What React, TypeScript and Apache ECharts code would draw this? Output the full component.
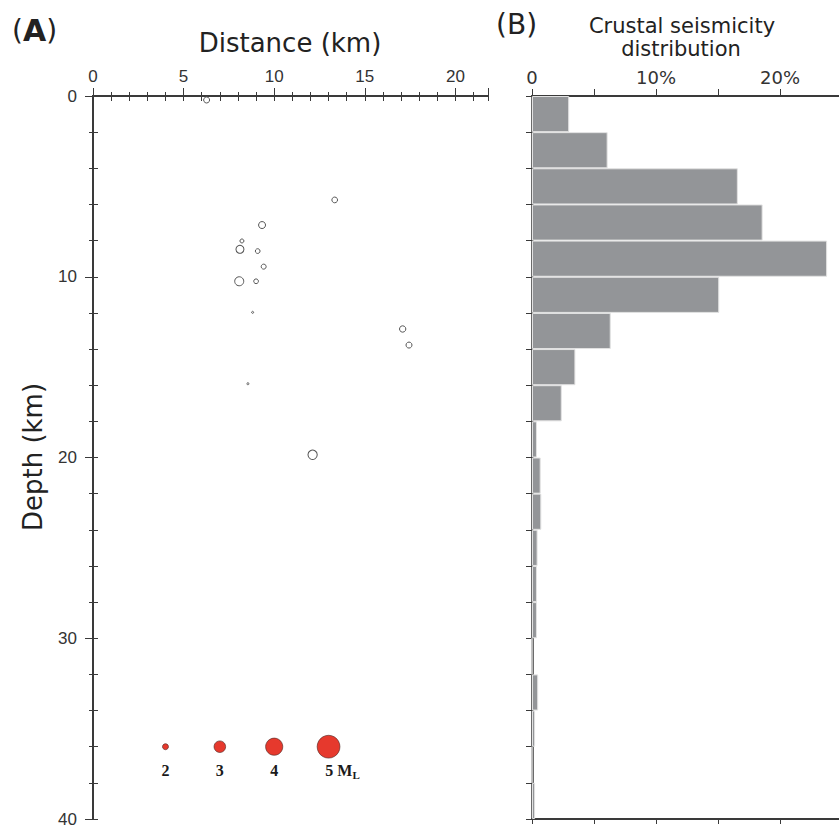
import React, { useEffect, useRef } from "react";
import * as echarts from "echarts";

// Panel A: earthquake hypocentres [distance km, depth km, magnitude ML]
const quakeDistance = [6.27, 13.34, 9.33, 8.22, 8.11, 9.09, 9.42, 8.07, 9.0, 8.81, 17.09, 17.44, 8.55, 12.12];
const quakeDepth = [0.22, 5.75, 7.14, 8.02, 8.48, 8.58, 9.44, 10.25, 10.25, 11.97, 12.89, 13.78, 15.92, 19.85];
const quakeMag = [2.0, 1.95, 2.18, 1.64, 2.36, 1.77, 1.82, 2.54, 1.77, 1.29, 2.06, 2.0, 1.29, 2.59];

// Magnitude scale legend
const legendMags = [2, 3, 4, 5];
const legendX = [4, 7, 10, 13];
const legendDepth = 36;

// Panel B: seismicity distribution per 2 km depth bin (%)
const depthBins = ["0-2", "2-4", "4-6", "6-8", "8-10", "10-12", "12-14", "14-16", "16-18", "18-20",
  "20-22", "22-24", "24-26", "26-28", "28-30", "30-32", "32-34", "34-36", "36-38", "38-40"];
const binPercent = [3.0, 6.1, 16.6, 18.6, 23.8, 15.1, 6.35, 3.5, 2.4, 0.4,
  0.7, 0.75, 0.45, 0.4, 0.4, 0, 0.5, 0.25, 0, 0.25];

const pctTickLabels: Record<number, string> = { 0: "0", 10: "10%", 20: "20%" };

const magToDiameter = (m: number) => 5.6 * (m - 0.93);

const AXIS = "#3a3a3a";

export default function App() {
  const ref = useRef<HTMLDivElement>(null);
  useEffect(() => {
    document.body.style.margin = "0";
    document.body.style.overflow = "hidden";
    if (!ref.current) return;
    const chart = echarts.init(ref.current, null, { renderer: "svg" });

    const gridTop = 96;
    const gridH = 723;
    const axisLine = { show: true, lineStyle: { color: AXIS, width: 2 } };

    const option: any = {
      animation: false,
      backgroundColor: "#ffffff",
      grid: [
        { left: 93, top: gridTop, width: 395, height: gridH, containLabel: false, outerBoundsMode: "none" },
        { left: 532, top: gridTop, width: 310, height: gridH, containLabel: false, outerBoundsMode: "none" },
      ],
      xAxis: [
        {
          gridIndex: 0, type: "value", position: "top", min: 0, max: 21.8, interval: 5,
          axisLine, splitLine: { show: false },
          axisTick: { show: true, inside: false, length: 8, lineStyle: { color: AXIS, width: 1 } },
          minorTick: { show: true, splitNumber: 5, length: 4, lineStyle: { color: AXIS, width: 1 } },
          axisLabel: {
            show: true, margin: 11, fontFamily: "Liberation Sans", fontSize: 17, color: "#333",
            showMaxLabel: false,
            formatter: (v: number) => (Math.abs(v % 5) < 1e-6 ? String(v) : ""),
          },
        },
        {
          gridIndex: 0, type: "value", position: "bottom", min: 0, max: 21.8, interval: 1,
          axisLine, splitLine: { show: false },
          axisTick: { show: true, inside: false, length: 5, lineStyle: { color: AXIS, width: 1 } },
          axisLabel: { show: false },
        },
        {
          gridIndex: 1, type: "value", position: "top", min: 0, max: 25, interval: 5,
          axisLine, splitLine: { show: false },
          axisTick: { show: true, inside: false, length: 7, lineStyle: { color: AXIS, width: 1 } },
          axisLabel: {
            show: true, margin: 10, fontFamily: "DejaVu Sans", fontSize: 18, color: "#333",
            formatter: (v: number) => pctTickLabels[v] ?? "",
          },
        },
        {
          gridIndex: 1, type: "value", position: "bottom", min: 0, max: 25, interval: 5,
          axisLine, splitLine: { show: false },
          axisTick: { show: true, inside: false, length: 5, lineStyle: { color: AXIS, width: 1 } },
          axisLabel: { show: false },
        },
      ],
      yAxis: [
        {
          gridIndex: 0, type: "value", position: "left", inverse: true, min: 0, max: 40, interval: 10,
          axisLine, splitLine: { show: false },
          axisTick: { show: true, inside: false, length: 8, lineStyle: { color: AXIS, width: 1 } },
          minorTick: { show: true, splitNumber: 5, length: 4, lineStyle: { color: AXIS, width: 1 } },
          axisLabel: { show: true, margin: 16, fontFamily: "Liberation Sans", fontSize: 17, color: "#333" },
        },
        {
          gridIndex: 0, type: "value", position: "right", inverse: true, min: 0, max: 40, interval: 2,
          axisLine, splitLine: { show: false },
          axisTick: { show: true, inside: false, length: 5, lineStyle: { color: AXIS, width: 1 } },
          axisLabel: { show: false },
        },
        {
          gridIndex: 1, type: "category", position: "left", inverse: true, data: depthBins,
          axisLine: { show: true, lineStyle: { color: AXIS, width: 2.5 } },
          splitLine: { show: false },
          axisTick: { show: true, inside: false, length: 6, lineStyle: { color: AXIS, width: 1 } },
          axisLabel: { show: false },
        },
      ],
      series: [
        {
          type: "bar",
          xAxisIndex: 2,
          yAxisIndex: 2,
          data: binPercent,
          barCategoryGap: "0%",
          itemStyle: { color: "#939598", borderColor: "#e2e2e2", borderWidth: 1, opacity: 1 },
          silent: true,
          z: 1,
        },
        {
          type: "scatter",
          xAxisIndex: 0,
          yAxisIndex: 0,
          data: quakeDistance.map((x, i) => [x, quakeDepth[i], quakeMag[i]]),
          symbol: "circle",
          symbolSize: (v: number[]) => magToDiameter(v[2]),
          itemStyle: { color: "#ffffff", borderColor: "#555555", borderWidth: 1, opacity: 1 },
          silent: true,
        },
        {
          type: "scatter",
          xAxisIndex: 0,
          yAxisIndex: 0,
          data: legendMags.map((m, i) => ({
            value: [legendX[i], legendDepth, m],
            label: i === legendMags.length - 1
              ? { offset: [14, 24], formatter: `{n|${m} M}{s|L}` }
              : { offset: [0, 24], formatter: `{n|${m}}` },
          })),
          symbol: "circle",
          symbolSize: (v: number[]) => magToDiameter(v[2]),
          itemStyle: { color: "#e6392d", borderColor: "#4a2420", borderWidth: 0.6, opacity: 1 },
          label: {
            show: true,
            position: "inside",
            rich: {
              n: { fontFamily: "Liberation Serif", fontWeight: "bold", fontSize: 16, color: "#1a1a1a" },
              s: { fontFamily: "Liberation Serif", fontWeight: "bold", fontSize: 11, color: "#1a1a1a", padding: [9, 0, 0, 0] },
            },
          },
          silent: true,
        },
      ],
      graphic: [
        {
          type: "text", left: 12, top: 15,
          style: {
            text: "{p|(}{b|A}{p|)}",
            rich: {
              p: { fontFamily: "DejaVu Sans", fontSize: 28, fontWeight: "normal", fill: "#222" },
              b: { fontFamily: "DejaVu Sans", fontSize: 30, fontWeight: "bold", fill: "#222" },
            },
          },
        },
        {
          type: "text", x: 290, y: 43,
          style: {
            text: "Distance (km)", fontFamily: "DejaVu Sans", fontSize: 26, fill: "#222",
            textAlign: "center", textVerticalAlign: "middle",
          },
        },
        {
          type: "text", x: 33, y: 457, rotation: Math.PI / 2,
          style: {
            text: "Depth (km)", fontFamily: "DejaVu Sans", fontSize: 26, fill: "#222",
            textAlign: "center", textVerticalAlign: "middle",
          },
        },
        {
          type: "text", left: 496, top: 10,
          style: { text: "(B)", fontFamily: "DejaVu Sans", fontSize: 28, fill: "#222" },
        },
        {
          type: "text", x: 682, y: 26,
          style: {
            text: "Crustal seismicity", fontFamily: "DejaVu Sans", fontSize: 21, fill: "#222",
            textAlign: "center", textVerticalAlign: "middle",
          },
        },
        {
          type: "text", x: 681, y: 49,
          style: {
            text: "distribution", fontFamily: "DejaVu Sans", fontSize: 21, fill: "#222",
            textAlign: "center", textVerticalAlign: "middle",
          },
        },
      ],
    };

    chart.setOption(option);
    return () => chart.dispose();
  }, []);

  return <div ref={ref} style={{ width: 839, height: 827 }} />;
}
